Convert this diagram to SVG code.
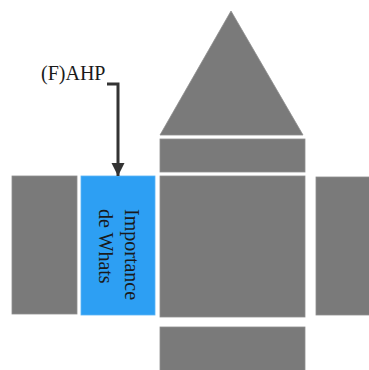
<svg xmlns="http://www.w3.org/2000/svg" width="369" height="370" viewBox="0 0 369 370">
<style>
.g{fill:#7a7a7a;stroke:#8e8e8e;stroke-width:0.8}
.b{fill:#2d9ff3;stroke:#5ab4f5;stroke-width:0.8}
.t{font-family:"Liberation Serif",serif;font-size:20px;fill:#1a1a1a}
</style>
<defs>
<marker id="ah" markerWidth="14" markerHeight="14" refX="13" refY="7" orient="auto" markerUnits="userSpaceOnUse">
<path d="M0,0.5 L13,7 L0,13.5 Z" fill="#333"/>
</marker>
</defs>
<g id="roof"><polygon class="g" points="231,11 303,135 160,135"/></g>
<g id="band"><rect class="g" x="160" y="139" width="145" height="33"/></g>
<g id="main"><rect class="g" x="160" y="176" width="145" height="141"/></g>
<g id="bottom"><rect class="g" x="160" y="327" width="145" height="45"/></g>
<g id="left"><rect class="g" x="12" y="176" width="65" height="138"/></g>
<g id="right"><rect class="g" x="316" y="177" width="55" height="138"/></g>
<g id="importance"><rect class="b" x="81" y="176" width="74" height="139"/>
<text class="t" transform="translate(125,209) rotate(90)"><tspan x="0" y="0">Importance</tspan><tspan x="0" y="26">de Whats</tspan></text></g>
<g id="fahp"><text class="t" x="41" y="80">(F)AHP</text></g>
<g id="connectors"><path d="M107,84 H118 V176" fill="none" stroke="#333" stroke-width="3" marker-end="url(#ah)"/></g>
</svg>
